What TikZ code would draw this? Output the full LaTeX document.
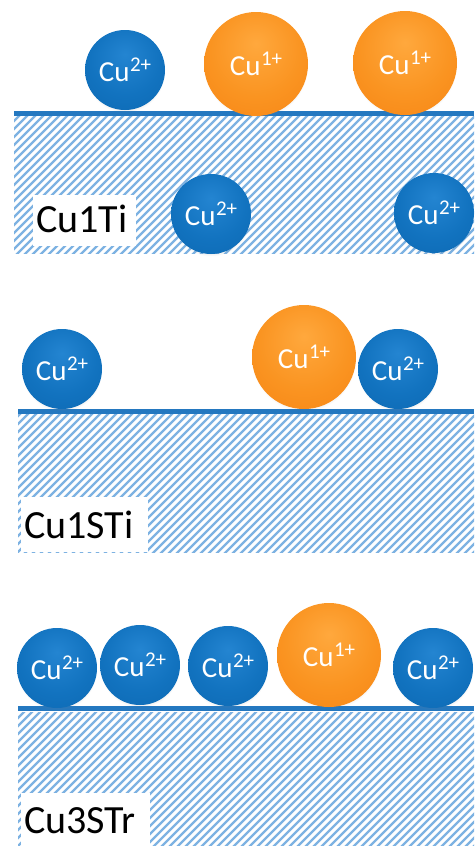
\documentclass[tikz,border=0pt]{standalone}
\usepackage{fontspec}
\setmainfont{Carlito}
\usetikzlibrary{shadows}

\definecolor{surfblue}{RGB}{36,120,192}
\definecolor{hatchblue}{RGB}{125,178,226}

% ball shadings: flat body, slightly lighter top, darker rim
\pgfdeclareradialshading{blueball}{\pgfpoint{0bp}{10bp}}{%
  rgb(0bp)=(0.14,0.52,0.82); rgb(22bp)=(0.07,0.45,0.75);
  rgb(40bp)=(0.05,0.41,0.70); rgb(50bp)=(0.03,0.31,0.56); rgb(60bp)=(0.03,0.28,0.50)}
\pgfdeclareradialshading{orangeball}{\pgfpoint{0bp}{10bp}}{%
  rgb(0bp)=(1.00,0.66,0.24); rgb(22bp)=(0.98,0.58,0.13);
  rgb(40bp)=(0.97,0.52,0.08); rgb(50bp)=(0.88,0.44,0.04); rgb(60bp)=(0.82,0.40,0.03)}

% superscript charge on an ion label
\newcommand\ioncharge[1]{\kern0.5pt\raisebox{0.36em}{\fontsize{21}{21}\selectfont #1}}

\tikzset{
  ion/.style={circle, inner sep=0pt, text=white,
    font=\fontsize{29}{31}\selectfont,
    circular drop shadow={opacity=0.22, shadow xshift=0pt, shadow yshift=-2.5pt, shadow scale=1.0}},
  cutwo/.style={ion, minimum size=80pt, shading=blueball},
  cuone/.style={ion, minimum size=104pt, shading=orangeball},
  surface/.style={draw=surfblue, line width=5pt},
  hatchline/.style={draw=hatchblue, line width=2.3pt},
  tagbox/.style={fill=white},
  tagtext/.style={inner sep=0pt, anchor=base west, text=black,
    font=\fontsize{40}{42}\selectfont},
}

\begin{document}
\begin{tikzpicture}[x=1pt, y=-1pt]
\useasboundingbox (0,0) rectangle (474,846);

% ---------- substrate blocks: hatched bulk ----------
\foreach \xa/\ya/\yb in {14/116/253, 18/414/552, 18/712/846}{
  \begin{scope}
    \clip (\xa,\ya) rectangle (474,\yb);
    \foreach \k in {-160,-152,...,480}
      \draw[hatchline] (\k,\yb+10) -- ++(170,-170);
  \end{scope}
}

% ---------- sample labels ----------
\fill[tagbox] (33,195) rectangle (136,246);
\node[tagtext] (lab1) at (36,232) {Cu1Ti};
\fill[tagbox] (21,497) rectangle (148,552);
\node[tagtext] (lab2) at (24,538) {Cu1STi};
\fill[tagbox] (21,793) rectangle (150,846);
\node[tagtext] (lab3) at (24,833) {Cu3STr};

% ---------- surface lines ----------
\draw[surface] (14,113) -- (474,113);
\draw[surface] (18,411) -- (474,411);
\draw[surface] (18,708) -- (474,708);

% ---------- Cu1Ti ----------
\node[cutwo] (a1) at (125,70)  {Cu\ioncharge{2+}};
\node[cuone] (a2) at (256,64)  {Cu\ioncharge{1+}};
\node[cuone] (a3) at (405,63)  {Cu\ioncharge{1+}};
\node[cutwo] (a4) at (211,214) {Cu\ioncharge{2+}};
\node[cutwo] (a5) at (434,213) {Cu\ioncharge{2+}};

% ---------- Cu1STi ----------
\node[cutwo] (b1) at (62,369)  {Cu\ioncharge{2+}};
\node[cuone] (b2) at (304,357) {Cu\ioncharge{1+}};
\node[cutwo] (b3) at (398,369) {Cu\ioncharge{2+}};

% ---------- Cu3STr ----------
\node[cutwo] (c1) at (57,668)  {Cu\ioncharge{2+}};
\node[cutwo] (c2) at (140,665) {Cu\ioncharge{2+}};
\node[cutwo] (c3) at (228,666) {Cu\ioncharge{2+}};
\node[cuone] (c4) at (329,655) {Cu\ioncharge{1+}};
\node[cutwo] (c5) at (433,668) {Cu\ioncharge{2+}};
\end{tikzpicture}
\end{document}
